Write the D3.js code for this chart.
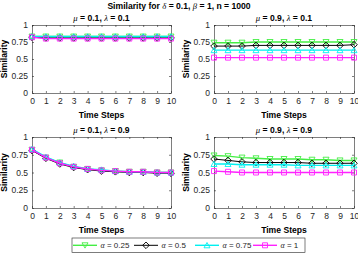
<!DOCTYPE html>
<html>
<head>
<meta charset="utf-8">
<script src="https://cdn.jsdelivr.net/npm/d3@7"></script>
<style>
  body { margin: 0; background: #fff; }
  svg { font-family: "Liberation Sans", Arial, sans-serif; }
</style>
</head>
<body>
<div id="chart"></div>
<script>
const steps = [0, 1, 2, 3, 4, 5, 6, 7, 8, 9, 10];
const yTicks = [0, 0.25, 0.5, 0.75, 1];
const yTickLabels = ["0", "0.25", "0.5", "0.75", "1"];
const alphas = ["0.25", "0.5", "0.75", "1"];
const colors = ["#44ee44", "#000000", "#00f0f0", "#ff22ff"];

// mu = 0.1, lambda = 0.1
const tlA025 = [0.83, 0.83, 0.83, 0.83, 0.83, 0.83, 0.83, 0.83, 0.83, 0.83, 0.83];
const tlA05  = [0.82, 0.81, 0.81, 0.81, 0.81, 0.81, 0.81, 0.81, 0.81, 0.81, 0.81];
const tlA075 = [0.83, 0.83, 0.83, 0.83, 0.83, 0.83, 0.83, 0.83, 0.83, 0.83, 0.83];
const tlA1   = [0.82, 0.80, 0.80, 0.80, 0.80, 0.80, 0.80, 0.80, 0.80, 0.80, 0.80];
// mu = 0.9, lambda = 0.1
const trA025 = [0.74, 0.74, 0.74, 0.75, 0.75, 0.75, 0.75, 0.75, 0.75, 0.75, 0.75];
const trA05  = [0.69, 0.69, 0.69, 0.70, 0.70, 0.70, 0.70, 0.70, 0.70, 0.70, 0.71];
const trA075 = [0.63, 0.63, 0.63, 0.63, 0.63, 0.63, 0.63, 0.63, 0.63, 0.63, 0.63];
const trA1   = [0.52, 0.52, 0.52, 0.52, 0.52, 0.52, 0.52, 0.52, 0.52, 0.52, 0.52];
// mu = 0.1, lambda = 0.9
const blA025 = [0.82, 0.71, 0.64, 0.58, 0.55, 0.53, 0.52, 0.51, 0.51, 0.50, 0.50];
const blA05  = [0.81, 0.70, 0.62, 0.57, 0.54, 0.52, 0.51, 0.50, 0.50, 0.49, 0.49];
const blA075 = [0.83, 0.72, 0.64, 0.59, 0.55, 0.54, 0.52, 0.51, 0.51, 0.50, 0.50];
const blA1   = [0.82, 0.71, 0.63, 0.58, 0.55, 0.53, 0.52, 0.51, 0.51, 0.50, 0.50];
// mu = 0.9, lambda = 0.9
const brA025 = [0.74, 0.73, 0.71, 0.70, 0.69, 0.69, 0.69, 0.68, 0.68, 0.67, 0.67];
const brA05  = [0.69, 0.67, 0.65, 0.64, 0.64, 0.64, 0.64, 0.63, 0.63, 0.63, 0.63];
const brA075 = [0.62, 0.62, 0.61, 0.61, 0.61, 0.61, 0.60, 0.60, 0.60, 0.60, 0.60];
const brA1   = [0.52, 0.51, 0.50, 0.50, 0.50, 0.50, 0.50, 0.50, 0.50, 0.50, 0.50];

const panels = [
    { mu: "0.1", lam: "0.1", x: 32, y: 25, w: 139, h: 68, series: [tlA025, tlA05, tlA075, tlA1] },
    { mu: "0.9", lam: "0.1", x: 214, y: 25, w: 140, h: 68, series: [trA025, trA05, trA075, trA1] },
    { mu: "0.1", lam: "0.9", x: 32, y: 137, w: 139, h: 71, series: [blA025, blA05, blA075, blA1] },
    { mu: "0.9", lam: "0.9", x: 214, y: 137, w: 140, h: 71, series: [brA025, brA05, brA075, brA1] }
];

const width = 358, height = 255;
const axisColor = "#262626";

const svg = d3.select("#chart").append("svg")
    .attr("width", width)
    .attr("height", height);

// marker shapes: down triangle, diamond, up triangle, square
function markerPath(i) {
    if (i === 0) return "M-3,-2.5L3,-2.5L0,2.8Z";
    if (i === 1) return "M0,-3.3L3.3,0L0,3.3L-3.3,0Z";
    if (i === 2) return "M-3,2.5L3,2.5L0,-2.8Z";
    return "M-2.5,-2.5L2.5,-2.5L2.5,2.5L-2.5,2.5Z";
}

// main title
const title = svg.append("text")
    .attr("x", 179).attr("y", 9)
    .attr("text-anchor", "middle")
    .style("font-size", "8.6px").style("font-weight", "bold");
title.append("tspan").text("Similarity for ");
title.append("tspan").style("font-family", "Liberation Serif").style("font-style", "italic").style("font-weight", "normal").text("δ");
title.append("tspan").text(" = 0.1, ");
title.append("tspan").style("font-family", "Liberation Serif").style("font-style", "italic").style("font-weight", "normal").text("β");
title.append("tspan").text(" = 1, n = 1000");

panels.forEach(p => {
    const g = svg.append("g").attr("transform", `translate(${p.x},${p.y})`);
    const x = d3.scaleLinear().domain([0, 10]).range([0, p.w]);
    const y = d3.scaleLinear().domain([0, 1]).range([p.h, 0]);

    // axes with inward ticks
    const xa = g.append("g").attr("transform", `translate(0,${p.h})`)
        .call(d3.axisBottom(x).tickValues(steps).tickSizeInner(-2).tickSizeOuter(0).tickPadding(5));
    const xt = g.append("g")
        .call(d3.axisTop(x).tickValues(steps).tickSizeInner(-2).tickSizeOuter(0).tickFormat(""));
    const ya = g.append("g")
        .call(d3.axisLeft(y).tickValues(yTicks).tickSizeInner(-2).tickSizeOuter(0).tickPadding(4)
            .tickFormat((d, i) => yTickLabels[i]));
    const yr = g.append("g").attr("transform", `translate(${p.w},0)`)
        .call(d3.axisRight(y).tickValues(yTicks).tickSizeInner(-2).tickSizeOuter(0).tickFormat(""));
    [xa, xt, ya, yr].forEach(a => {
        a.select(".domain").attr("stroke", axisColor).attr("stroke-width", 0.6);
        a.selectAll(".tick line").attr("stroke", axisColor).attr("stroke-width", 0.6);
        a.selectAll("text").style("font-size", "8.5px").attr("fill", axisColor)
            .style("font-family", "Liberation Sans, Arial, sans-serif");
    });

    // lines and markers
    p.series.forEach((vals, i) => {
        const line = d3.line().x((d, j) => x(steps[j])).y(d => y(d));
        g.append("path")
            .datum(vals)
            .attr("fill", "none")
            .attr("stroke", colors[i])
            .attr("stroke-width", i === 1 ? 1 : 1.4)
            .attr("d", line);
        g.selectAll(null).data(vals).enter().append("path")
            .attr("transform", (d, j) => `translate(${x(steps[j])},${y(d)})`)
            .attr("d", markerPath(i))
            .attr("fill", "none")
            .attr("stroke", colors[i])
            .attr("stroke-width", 0.9);
    });

    // subplot title
    const t = g.append("text")
        .attr("x", p.w / 2).attr("y", -4)
        .attr("text-anchor", "middle")
        .style("font-size", "8.6px").style("font-weight", "bold");
    t.append("tspan").style("font-family", "Liberation Serif").style("font-style", "italic").style("font-weight", "normal").text("μ");
    t.append("tspan").text(` = ${p.mu}, `);
    t.append("tspan").style("font-family", "Liberation Serif").style("font-style", "italic").style("font-weight", "normal").text("λ");
    t.append("tspan").text(` = ${p.lam}`);

    // axis labels
    g.append("text")
        .attr("x", p.w / 2).attr("y", p.h + 25)
        .attr("text-anchor", "middle")
        .style("font-size", "8.6px").style("font-weight", "bold")
        .text("Time Steps");
    g.append("text")
        .attr("transform", `translate(-25.5,${p.h / 2}) rotate(-90)`)
        .attr("text-anchor", "middle")
        .style("font-size", "8.6px").style("font-weight", "bold")
        .text("Similarity");
});

// Legend
const legend = svg.append("g").attr("transform", "translate(72,238)");
legend.append("rect")
    .attr("width", 233).attr("height", 14.5)
    .attr("fill", "#fff").attr("stroke", axisColor).attr("stroke-width", 0.6);
const legX = [1, 62, 123, 181];
alphas.forEach((a, i) => {
    const item = legend.append("g").attr("transform", `translate(${legX[i]},7.3)`);
    item.append("line").attr("x1", 0).attr("x2", 24)
        .attr("stroke", colors[i]).attr("stroke-width", i === 1 ? 1 : 1.4);
    item.append("path").attr("transform", "translate(12,0)")
        .attr("d", markerPath(i)).attr("fill", "none")
        .attr("stroke", colors[i]).attr("stroke-width", 0.9);
    const tx = item.append("text").attr("x", 27.5).attr("y", 2.8)
        .style("font-size", "8px").attr("fill", axisColor);
    tx.append("tspan").style("font-family", "Liberation Serif").style("font-style", "italic").text("α");
    tx.append("tspan").text(` = ${a}`);
});
</script>
</body>
</html>
